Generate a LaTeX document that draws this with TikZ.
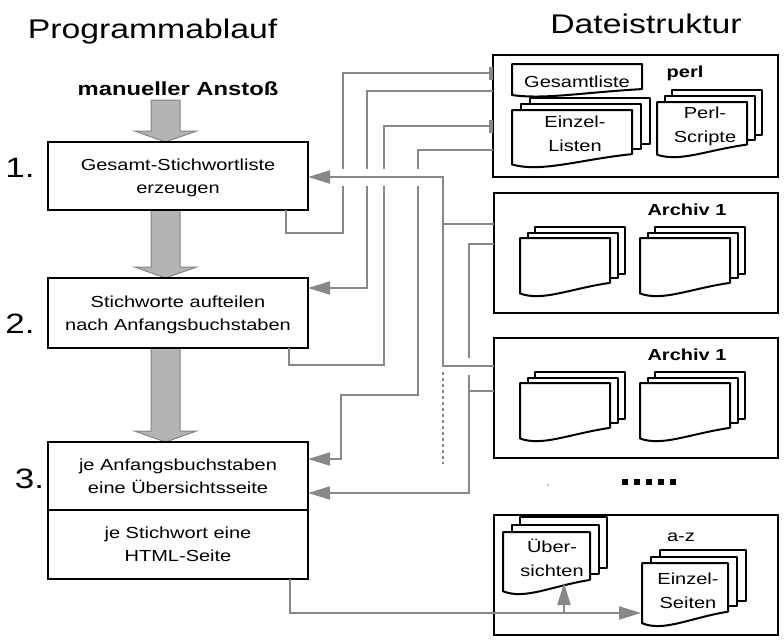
\documentclass[tikz,border=0pt]{standalone}
\usepackage{fontspec}
\setmainfont{Liberation Sans}[FakeStretch=1.25]
\usetikzlibrary{arrows.meta}
\definecolor{ln}{HTML}{888888}
\definecolor{af}{HTML}{B4B4B4}
\definecolor{ae}{HTML}{848484}
\tikzset{
  box/.style={draw, line width=2pt, inner sep=0pt, outer sep=0pt, align=center, font=\fontsize{16}{23}\selectfont},
  filebox/.style={draw, line width=2pt, inner sep=0pt, outer sep=0pt},
  conn/.style={draw=ln, line width=2pt},
  arr/.style={conn, -{Triangle[length=22pt,width=13pt]}},
  doc/.style={draw, line width=2pt, fill=white, line join=round},
  dtext/.style={align=center, font=\fontsize{16}{24}\selectfont, inner sep=0pt},
  lbl/.style={font=\bfseries\fontsize{16}{19}\selectfont, inner sep=0pt},
  ttl/.style={font=\fontsize{27}{30}\selectfont, inner sep=0pt},
  num/.style={font=\fontsize{28}{30}\selectfont, inner sep=0pt},
  bigarr/.style={fill=af, draw=ae, line width=1pt},
  halo/.style={draw=white, line width=17pt}
}
\newcommand{\bigarrow}[3]{%
  \filldraw[bigarr] ({#1-14.5},#2) -- ({#1+14.5},#2) -- ({#1+14.5},{#3-11}) -- ({#1+31},{#3-11})
    -- (#1,#3) -- ({#1-31},{#3-11}) -- ({#1-14.5},{#3-11}) -- cycle;}
\newcommand{\docshape}[4]{%
  \filldraw[doc] (#1,#2) -- ({#1+#3},#2) -- ({#1+#3},{#2+0.76*#4})
    .. controls ({#1+0.55*#3},{#2+0.86*#4}) and ({#1+0.25*#3},{#2+1.08*#4}) .. (#1,{#2+0.94*#4}) -- cycle;}
\newcommand{\docstack}[6]{%
  \foreach \k in {2,1}{\filldraw[doc] ({#1+#5*\k},{#2-#6*\k}) rectangle ({#1+#3+#5*\k},{#2+0.76*#4-0.8*#6*\k});}
  \docshape{#1}{#2}{#3}{#4}}
\begin{document}
\begin{tikzpicture}[x=1pt,y=-1pt]
\useasboundingbox (0,0) rectangle (784,641);
% titles
\node[ttl, anchor=base] (t1) at (152.5,38) {Programmablauf};
\node[ttl, anchor=base] (t2) at (646,33) {Dateistruktur};
\node[lbl, font=\bfseries\fontsize{19}{22}\selectfont, anchor=base] (start) at (178,95) {manueller Anstoß};
\node[num, anchor=base] (n1) at (20,177) {1.};
\node[num, anchor=base] (n2) at (20,333) {2.};
\node[num, anchor=base] (n3) at (29.5,488) {3.};
% big arrows
\bigarrow{165.5}{100}{142}
\bigarrow{165.5}{210}{278}
\bigarrow{165.5}{348}{442}
% program boxes
\node[box, minimum width=260, minimum height=68] (b1) at (178,176) {Gesamt-Stichwortliste\\\raisebox{0pt}[\height][0pt]{erzeugen}};
\node[box, minimum width=260, minimum height=70] (b2) at (178,313) {Stichworte aufteilen\\\raisebox{0pt}[\height][0pt]{nach Anfangsbuchstaben}};
\node[box, minimum width=260, minimum height=68] (b3a) at (178,476) {je Anfangsbuchstaben\\eine Übersichtsseite};
\node[box, minimum width=260, minimum height=69] (b3b) at (178,544.5) {je Stichwort eine\\HTML-Seite};
% file boxes
\node[filebox, minimum width=285, minimum height=122] (perl) at (635.5,116) {};
\node[filebox, minimum width=284, minimum height=120] (ar1) at (636,253) {};
\node[filebox, minimum width=284, minimum height=120] (ar2) at (636,398) {};
\node[filebox, minimum width=284, minimum height=120] (az) at (636,575) {};
% perl contents
\docstack{512}{110}{120}{58}{9}{6}
\docshape{512}{64}{130}{33}
\docstack{657}{102}{90}{56}{7.5}{6}
\node[dtext, anchor=base] (gl) at (577,87) {Gesamtliste};
\node[lbl, anchor=base] (pl) at (685,77) {perl};
\node[dtext] (el) at (575,134) {Einzel-\\Listen};
\node[dtext] (ps) at (705,126) {Perl-\\Scripte};
% archives
\docstack{520}{238}{90}{59}{7.5}{5.5}
\docstack{640}{238}{90}{59}{7.5}{5.5}
\node[lbl, anchor=base] (a1) at (687,215) {Archiv 1};
\docstack{520}{383}{90}{59}{7.5}{5.5}
\docstack{640}{383}{90}{59}{7.5}{5.5}
\node[lbl, anchor=base] (a2) at (687,360) {Archiv 1};
% dots
\fill[ln] (548,485) circle (0.8);
\foreach \i in {0,...,4}{\fill ({622+12*\i},479) rectangle ++(5.5,6);}
% a-z
\docstack{503}{532}{87}{63}{8.5}{7.5}
\docstack{642}{563}{86}{64}{9}{6.5}
\node[lbl, font=\fontsize{16}{19}\selectfont, anchor=base] (azl) at (681,541) {a-z};
\node[dtext] (ub) at (552,558) {Über-\\sichten};
\node[dtext] (es) at (688,591) {Einzel-\\Seiten};
\coordinate (esin) at (641,613);
% connectors
\draw[conn] ([xshift=-22]b1.south east) |- (343,233) |- (perl.west |- 0,73);
\fill[ln] (489,66.5) rectangle (493,79.5);
\draw[arr] (perl.west |- 0,91) -| (367,288) -- (b2.east |- 0,288);
\draw[conn] ([xshift=-19]b2.south east) |- (384,365) |- (perl.west |- 0,126);
\fill[ln] (489,119.5) rectangle (493,132.5);
\draw[arr] (perl.west |- 0,150) -| (418,395) -| (341,459) -- (b3a.east |- 0,459);
\draw[arr] (ar1.west |- 0,244) -| (469,493) -- (b3a.east |- 0,493);
\draw[conn] (ar2.west |- 0,391) -- (469,391);
\draw[halo] (333,177) -- (436,177);
\draw[halo] (452,366) -- (487,366);
\draw[arr] (ar2.west |- 0,366) -| (443,177) -- (b1.east |- 0,177);
\draw[conn] (ar1.west |- 0,224) -- (443,224);
\draw[conn, dash pattern=on 2.5pt off 3.5pt] (443,372) -- (443,464);
\draw[arr] ([xshift=-18]b3b.south east) |- (esin);
\draw[arr] (564,613) -- (564,583);
\end{tikzpicture}
\end{document}
